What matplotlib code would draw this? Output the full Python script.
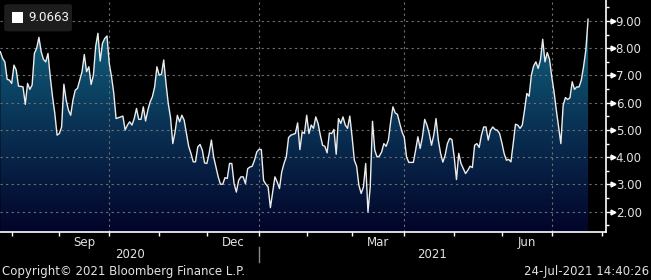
import numpy as np
import pandas as pd
import matplotlib as mpl
import matplotlib.pyplot as plt
from matplotlib.colors import LinearSegmentedColormap
from matplotlib.patches import FancyBboxPatch, Rectangle
from matplotlib.transforms import blended_transform_factory

mpl.rc('font', family='DejaVu Sans', size=8)

# --- data ---
# trading day number counted from Mon 27-Jul-2020, and the level on that day
obs_day = [
    0, 1, 2, 3, 4, 5, 6, 7, 8, 9,
    10, 11, 12, 13, 14, 15, 16, 17, 18, 19,
    20, 21, 22, 23, 24, 25, 26, 27, 28, 29,
    30, 31, 32, 33, 34, 35, 36, 37, 38, 39,
    40, 41, 42, 43, 44, 45, 46, 47, 48, 49,
    50, 51, 52, 53, 54, 55, 56, 57, 58, 59,
    60, 61, 62, 63, 64, 65, 66, 67, 68, 69,
    70, 71, 72, 73, 74, 75, 76, 77, 78, 79,
    80, 81, 82, 83, 84, 85, 86, 87, 88, 89,
    90, 91, 92, 93, 94, 96, 97, 98, 99,
    100, 101, 102, 103, 104, 105, 106, 107, 108, 109,
    110, 111, 112, 113, 114, 115, 116, 117, 118, 119,
    120, 121, 122, 123, 124, 125, 126, 127, 128, 130,
    131, 132, 133, 134, 135, 136, 137, 138, 139, 140,
    141, 142, 143, 144, 145, 146, 147, 148, 149, 150,
    151, 152, 153, 154, 155, 156, 157, 158, 159, 160,
    161, 162, 163, 164, 165, 166, 167, 168, 169, 170,
    171, 172, 173, 174, 175, 176, 177, 178, 179, 180,
    182, 183, 184, 185, 186, 187, 188, 189,
    190, 191, 192, 193, 194, 195, 196, 197, 198, 199,
    200, 201, 202, 203, 204, 205, 206, 207, 208, 209,
    210, 211, 212, 213, 214, 215, 216, 217, 218, 219,
    220, 221, 222, 223, 224, 225, 226, 227, 228, 229,
    230, 231, 232, 233, 234, 235, 236, 237, 238, 239,
    240, 241, 242, 243, 244, 245, 246, 247, 248, 249,
    250, 251, 252, 253, 254, 255, 256, 257, 258, 259,
]
level = [
    7.87, 7.63, 7.50, 6.86, 6.83, 6.71, 7.38, 7.20, 6.61, 6.60,
    6.58, 5.94, 6.71, 6.49, 6.65, 7.81, 8.00, 8.40, 7.87, 7.59,
    7.50, 7.81, 6.95, 6.22, 5.61, 4.81, 4.87, 5.11, 6.68, 6.10,
    5.73, 5.54, 6.10, 6.46, 6.53, 6.83, 7.14, 7.77, 7.14, 7.32,
    6.67, 7.01, 8.06, 8.55, 7.53, 8.18, 8.36, 8.45, 7.44, 6.95,
    6.34, 5.42, 5.45, 5.48, 5.51, 5.00, 5.18, 5.30, 5.18, 5.42,
    5.79, 5.39, 5.39, 5.85, 5.33, 5.73, 6.03, 6.22, 6.58, 7.32,
    7.01, 7.05, 7.57, 6.71, 5.97, 5.45, 4.50, 4.93, 5.54, 5.30,
    5.54, 5.36, 4.87, 4.40, 4.14, 3.83, 3.83, 4.38, 4.47, 4.26,
    3.79, 3.77, 4.14, 4.63, 4.01, 3.28, 3.01, 3.01, 3.25,
    3.22, 3.77, 3.77, 3.03, 2.72, 3.15, 3.28, 3.28, 3.03, 3.58,
    3.64, 3.67, 3.89, 4.19, 4.29, 4.28, 3.15, 3.01, 2.91, 2.15,
    2.72, 3.28, 3.09, 2.85, 3.46, 3.77, 4.01, 4.72, 4.81, 4.87,
    5.26, 4.28, 4.93, 4.87, 5.54, 4.87, 5.18, 5.06, 5.48, 5.24,
    4.81, 4.44, 4.40, 4.16, 4.89, 4.87, 5.02, 4.11, 5.42, 5.24,
    5.48, 5.18, 5.06, 5.51, 4.75, 3.89, 3.67, 2.97, 2.67, 2.91,
    3.77, 1.99, 2.91, 5.32, 4.26, 4.01, 4.04, 4.19, 4.50, 4.40,
    4.63, 5.30, 5.85, 5.63, 5.57, 5.24, 4.93, 4.73, 4.01, 3.81,
    3.81, 4.26, 4.75, 4.32, 4.75, 5.39, 5.18, 4.87,
    4.44, 4.81, 5.42, 4.63, 4.14, 3.82, 4.07, 4.50, 4.69, 4.65,
    4.01, 3.18, 4.14, 3.77, 3.58, 3.40, 3.52, 3.67, 3.62, 4.44,
    4.50, 4.36, 4.81, 5.11, 5.11, 4.63, 4.99, 5.11, 5.02, 4.99,
    4.87, 4.53, 4.14, 3.89, 3.92, 3.83, 4.50, 5.21, 5.18, 5.06,
    5.18, 5.73, 6.34, 6.24, 7.01, 7.35, 7.50, 7.26, 7.57, 8.33,
    7.50, 7.84, 7.60, 6.95, 6.40, 5.73, 5.10, 4.50, 5.90, 6.19,
    6.12, 6.18, 6.77, 6.49, 6.58, 6.58, 6.83, 7.32, 7.93, 9.0663,
]
last_value = '9.0663'
month_names = {9: 'Sep', 12: 'Dec', 3: 'Mar', 6: 'Jun'}
y_ticks = [2, 3, 4, 5, 6, 7, 8, 9]
copyright_txt = 'Copyright\u00a9 2021 Bloomberg Finance L.P.'
stamp_txt = '24-Jul-2021 14:40:26'

bdays = pd.bdate_range('2020-07-27', '2021-08-31')
month_start = [i for i in range(1, len(bdays)) if bdays[i].month != bdays[i - 1].month]

xmin, xmax = -0.15, 266.9
ymin, ymax = 1.255, 9.771
fg = '#e2e2e2'

fig = plt.figure(figsize=(6.51, 2.80), dpi=100, facecolor='black')
ax = fig.add_axes([0, 0.1714, 0.9309, 0.8286])
ax.set_facecolor('black')
ax.set_xlim(xmin, xmax)
ax.set_ylim(ymin, ymax)

# gradient fill under the curve
cmap = LinearSegmentedColormap.from_list('bbg', ['#03042a', '#0a3658', '#12718a'])
img = ax.imshow(np.linspace(0, 1, 256).reshape(-1, 1), cmap=cmap, origin='lower',
                aspect='auto', extent=[xmin, xmax, ymin, ymax], zorder=1)
poly = ax.fill_between(obs_day, level, ymin, color='none', lw=0)
img.set_clip_path(poly.get_paths()[0], transform=ax.transData)
ax.plot(obs_day, level, color='#ececec', lw=1.0, zorder=3)

# grid
for v in y_ticks:
    ax.axhline(v, color='#707070', lw=0.8, ls=(0, (2, 3)), zorder=2)
for i in month_start:
    if bdays[i].month in (1, 4, 7, 10):
        ax.axvline(i, color='#707070', lw=0.8, ls=(0, (2, 3)), zorder=2)

# spines
for s in ['left', 'top']:
    ax.spines[s].set_visible(False)
for s in ['right', 'bottom']:
    ax.spines[s].set_color('white')
    ax.spines[s].set_linewidth(1.2)

# y axis on the right
ax.yaxis.tick_right()
ax.set_yticks(y_ticks)
ax.set_yticklabels(['{:.2f}'.format(v) for v in y_ticks])
ax.set_yticks(np.arange(1.5, 10, 1.0), minor=True)
ax.tick_params(axis='y', which='major', length=5, width=1, color='white',
               labelcolor=fg, labelsize=8.5, pad=2)
ax.tick_params(axis='y', which='minor', length=2.5, width=1, color='white')
tr_y = blended_transform_factory(ax.transAxes, ax.transData)
ax.plot([1.011] * len(y_ticks), y_ticks, ls='none', marker='>', ms=3.5,
        color='white', transform=tr_y, clip_on=False)

# x axis: month starts as ticks, labels mid-month
ax.set_xticks(month_start[:13])
ax.set_xticklabels([])
mids, labs = [], []
for a, b in zip(month_start[:-1], month_start[1:]):
    if b > xmax + 30:
        break
    mids.append((a + b) / 2.0)
    labs.append(month_names.get(bdays[a].month, ''))
ax.set_xticks(mids, minor=True)
ax.set_xticklabels(labs, minor=True)
ax.tick_params(axis='x', which='major', length=3, width=1, color='white')
ax.tick_params(axis='x', which='minor', length=0, labelcolor=fg, labelsize=8.5, pad=3)

# year labels and separator
jan1 = [i for i in month_start if bdays[i].month == 1][0]
tr_x = blended_transform_factory(ax.transData, ax.transAxes)
ax.text((xmin + jan1) / 2.0, -0.099, '2020', transform=tr_x, ha='center', va='center',
        color=fg, fontsize=8.5)
ax.text((jan1 + xmax) / 2.0, -0.099, '2021', transform=tr_x, ha='center', va='center',
        color=fg, fontsize=8.5)
ax.plot([jan1, jan1], [-0.065, -0.13], color='#8a8a8a', lw=1, transform=tr_x, clip_on=False)

# legend box
fig.patches.append(FancyBboxPatch((0.0065, 0.888), 0.104, 0.097,
                                  boxstyle='round,pad=0,rounding_size=0.006',
                                  transform=fig.transFigure, facecolor='#1d1d1d',
                                  edgecolor='none'))
fig.patches.append(Rectangle((0.0189, 0.918), 0.016, 0.039, transform=fig.transFigure,
                             facecolor='white', edgecolor='none'))
fig.text(0.043, 0.9375, last_value, color='#f4f4f4', fontsize=9.5, family='Roboto',
         ha='left', va='center')

# footer
fig.text(0.003, 0.029, copyright_txt, color=fg, fontsize=8.5, ha='left', va='center')
fig.text(0.997, 0.029, stamp_txt, color=fg, fontsize=8.5, ha='right', va='center')

fig.savefig('out.png', dpi=100, facecolor='black')
